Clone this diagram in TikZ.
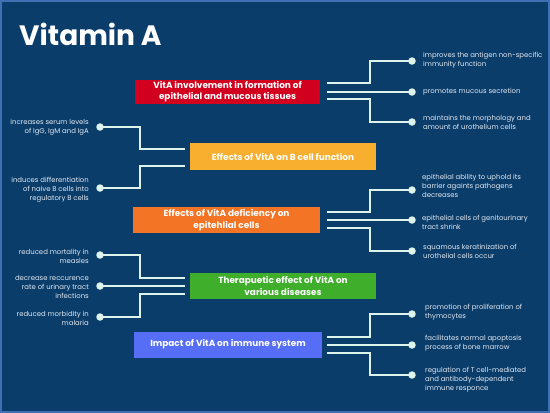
\documentclass[tikz,border=0pt]{standalone}
\usepackage{fontspec}
\setmainfont{Poppins}
\usetikzlibrary{positioning}
\definecolor{bgblue}{HTML}{0B3D6B}
\definecolor{edgeblue}{HTML}{3F6FB5}
\definecolor{mint}{HTML}{DDF3EC}
\definecolor{txt}{HTML}{E2EAF2}
\definecolor{cred}{HTML}{D2001E}
\definecolor{cyellow}{HTML}{F8AE2E}
\definecolor{corange}{HTML}{F27424}
\definecolor{cgreen}{HTML}{3FAE2A}
\definecolor{cblue}{HTML}{566DF5}
\tikzset{
  box/.style={inner sep=0pt, align=center, text=white, font=\bfseries\fontsize{8.9}{11.5}\selectfont, minimum height=25pt},
  dot/.style={circle, fill=mint, inner sep=0pt, minimum size=7.5pt},
  conn/.style={draw=mint, line width=1.7pt, line join=miter},
  rtxt/.style={anchor=west, align=left, text=txt, font=\fontsize{6.9}{9}\selectfont, inner sep=0pt},
  ltxt/.style={anchor=east, align=right, text=txt, font=\fontsize{6.9}{9}\selectfont, inner sep=0pt},
}
\begin{document}
\begin{tikzpicture}[x=1pt,y=-1pt]
\fill[edgeblue] (0,0) rectangle (550,413);
\fill[bgblue] (2,2) rectangle (548,411);
\useasboundingbox (0,0) rectangle (550,413);

\node[anchor=west, text=white, font=\bfseries\fontsize{28}{30}\selectfont, inner sep=0pt] (title) at (19,34) {Vitamin A};

% boxes
\node[box, fill=cred, minimum width=185pt, minimum height=24pt] (b1) at (227.5,91.5) {VitA involvement in formation of\\epithelial and mucous tissues};
\node[box, fill=cyellow, minimum width=186pt, minimum height=27pt] (b2) at (283,156.5) {Effects of VitA on B cell function};
\node[box, fill=corange, minimum width=187pt, minimum height=26pt] (b3) at (226.5,220) {Effects of VitA deficiency on\\epitehlial cells};
\node[box, fill=cgreen, minimum width=186pt, minimum height=26pt] (b4) at (283,286) {Therapuetic effect of VitA on\\various diseases};
\node[box, fill=cblue, minimum width=188pt, minimum height=26pt] (b5) at (228,344.5) {Impact of VitA on immune system};

% ---- box 1 right
\coordinate (s1a) at (327,83);
\coordinate (s1b) at (327,92);
\coordinate (s1c) at (327,99);
\node[dot] (d1a) at (412,61) {};
\node[dot] (d1b) at (412,92) {};
\node[dot] (d1c) at (412,122) {};
\draw[conn] (s1a) -- (370,83) |- (d1a.center);
\draw[conn] (s1b) -- (d1b.center);
\draw[conn] (s1c) -- (370,99) |- (d1c.center);
\node[rtxt] (t1a) at (423,60) {improves the antigen non-specific\\immunity function};
\node[rtxt] (t1b) at (423,92) {promotes mucous secretion};
\node[rtxt] (t1c) at (423,122) {maintains the morphology and\\amount of urothelium cells};

% ---- box 2 left
\coordinate (s2a) at (185,149);
\coordinate (s2b) at (185,166);
\node[dot] (d2a) at (100,127) {};
\node[dot] (d2b) at (100,188) {};
\draw[conn] (d2a.center) -- (140,127) |- (s2a);
\draw[conn] (d2b.center) -- (140,188) |- (s2b);
\node[ltxt] (t2a) at (89,127) {increases serum levels\\of IgG, IgM and IgA};
\node[ltxt] (t2b) at (89,190) {induces differentiation\\of naive B cells into\\regulatory B cells};

% ---- box 3 right
\coordinate (s3a) at (327,212);
\coordinate (s3b) at (327,220);
\coordinate (s3c) at (327,228);
\node[dot] (d3a) at (412,190) {};
\node[dot] (d3b) at (412,220) {};
\node[dot] (d3c) at (412,251) {};
\draw[conn] (s3a) -- (370,212) |- (d3a.center);
\draw[conn] (s3b) -- (d3b.center);
\draw[conn] (s3c) -- (370,228) |- (d3c.center);
\node[rtxt] (t3a) at (422,186) {epithelial ability to uphold its\\barrier againts pathogens\\decreases};
\node[rtxt] (t3b) at (422,222) {epithelial cells of genitourinary\\tract shrink};
\node[rtxt] (t3c) at (423,251) {squamous keratinization of\\urothelial cells occur};

% ---- box 4 left
\coordinate (s4a) at (185,278);
\coordinate (s4b) at (185,286);
\coordinate (s4c) at (185,294);
\node[dot] (d4a) at (100,255) {};
\node[dot] (d4b) at (100,286) {};
\node[dot] (d4c) at (100,317) {};
\draw[conn] (d4a.center) -- (140,255) |- (s4a);
\draw[conn] (d4b.center) -- (s4b);
\draw[conn] (d4c.center) -- (140,317) |- (s4c);
\node[ltxt] (t4a) at (89,256) {reduced mortality in\\measles};
\node[ltxt] (t4b) at (89,287) {decrease reccurence\\rate of urinary tract\\infections};
\node[ltxt] (t4c) at (89,318) {reduced morbidity in\\malaria};

% ---- box 5 right
\coordinate (s5a) at (327,337);
\coordinate (s5b) at (327,345);
\coordinate (s5c) at (327,353);
\node[dot] (d5a) at (412,314) {};
\node[dot] (d5b) at (412,345) {};
\node[dot] (d5c) at (412,375) {};
\draw[conn] (s5a) -- (370,337) |- (d5a.center);
\draw[conn] (s5b) -- (d5b.center);
\draw[conn] (s5c) -- (370,353) |- (d5c.center);
\node[rtxt] (t5a) at (425,312) {promotion of proliferation of\\thymocytes};
\node[rtxt] (t5b) at (425,343) {facilitates normal apoptosis\\process of bone marrow};
\node[rtxt] (t5c) at (425,380) {regulation of T cell-mediated\\and antibody-dependent\\immune responce};
\end{tikzpicture}
\end{document}
